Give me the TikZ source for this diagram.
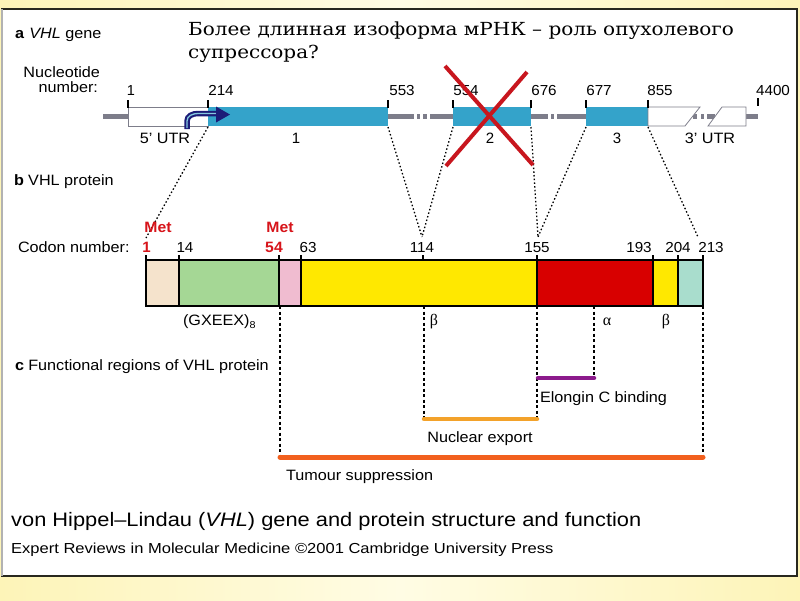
\documentclass[tikz,border=0pt]{standalone}
\usepackage{fontspec}
\setmainfont{Liberation Sans}
\newfontfamily\rufont{DejaVu Serif}
\newfontfamily\grkfont{Liberation Serif}
\newcommand{\myfs}[1]{\fontsize{#1}{#1}\selectfont}
\newcommand{\hx}[1]{\scalebox{1.08}[1]{#1}}
\newcommand{\hn}[1]{\scalebox{1.05}[1]{#1}}
\definecolor{bgY}{RGB}{253,244,184}
\definecolor{bgL}{RGB}{255,252,228}
\definecolor{frameC}{RGB}{40,40,30}
\definecolor{bbC}{RGB}{125,125,138}
\definecolor{exonC}{RGB}{52,163,202}
\definecolor{navyC}{RGB}{28,28,120}
\definecolor{xC}{RGB}{200,22,30}
\definecolor{metC}{RGB}{215,20,26}
\definecolor{beigeC}{RGB}{245,227,204}
\definecolor{greenC}{RGB}{165,215,149}
\definecolor{pinkC}{RGB}{240,188,208}
\definecolor{yelC}{RGB}{255,232,0}
\definecolor{redC}{RGB}{216,0,0}
\definecolor{tealC}{RGB}{169,221,205}
\definecolor{purC}{RGB}{140,26,140}
\definecolor{oraC}{RGB}{243,162,42}
\definecolor{tumC}{RGB}{242,96,30}
\begin{document}
\begin{tikzpicture}[x=1pt,y=-1pt,
  lbl/.style={inner sep=0pt, outer sep=0pt, font=\myfs{15}},
  num/.style={inner sep=0pt, outer sep=0pt, font=\myfs{14.5}, anchor=base},
  metlbl/.style={inner sep=0pt, font=\myfs{15}\bfseries, text=metC, anchor=base},
  bb/.style={bbC, line width=5pt},
  tickl/.style={black, line width=1.3pt},
  utr/.style={fill=white, draw=bbC, line width=0.8pt},
  exon/.style={fill=exonC},
  proj/.style={black, line width=1.3pt, dash pattern=on 1.5pt off 2.2pt},
  vdash/.style={black, line width=1.1pt, dash pattern=on 3pt off 2.5pt},
  region/.style={line width=4.5pt, line cap=round}
]
\useasboundingbox (0,0) rectangle (800,600);
% background
\shade[left color=bgY, right color=bgY, middle color=bgL] (0,0) rectangle (800,600);
\filldraw[fill=white, draw=frameC, line width=1.5pt] (2,9) rectangle (797,576);
\draw[gray!60, line width=1.5pt] (2,9) -- (2,576);

% ---- titles
\node[lbl, anchor=base west] (ta) at (15,38) {\hx{{\bfseries a}\hspace{5pt}\textit{VHL} gene}};
\node[inner sep=0pt, anchor=base west, font=\rufont\myfs{18}] (ru1) at (188,35) {\scalebox{1.11}[1]{Более длинная изоформа мРНК – роль опухолевого}};
\node[inner sep=0pt, anchor=base west, font=\rufont\myfs{18}] (ru2) at (188,58) {\scalebox{1.11}[1]{супрессора?}};
\node[lbl, anchor=base east] (nuc1) at (100,77) {\hx{Nucleotide}};
\node[lbl, anchor=base east] (nuc2) at (98,92) {\hx{number:}};

% ---- gene backbone
\draw[bb] (103,116) -- (128,116);
\draw[bb] (388,116) -- (414,116);
\draw[bb] (417,116) -- (420,116);
\draw[bb] (423,116) -- (427,116);
\draw[bb] (430,116) -- (453,116);
\draw[bb] (531,116) -- (548,116);
\draw[bb] (551,116) -- (554,116);
\draw[bb] (557,116) -- (586,116);
\draw[bb] (693,116) -- (697,116);
\draw[bb] (701,116) -- (704,116);
\draw[bb] (707,116) -- (715,116);
\draw[bb] (746,116) -- (758,116);

% boxes
\filldraw[utr] (128,107) rectangle (208,126);
\fill[exon] (208,107) rectangle (388,126);
\fill[exon] (453,107) rectangle (531,126);
\fill[exon] (586,107) rectangle (648,126);
\filldraw[utr] (648,107) -- (700,107) -- (685,126) -- (648,126) -- cycle;
\filldraw[utr] (722,107) -- (746,107) -- (746,126) -- (708,126) -- cycle;

% ticks
\foreach \x in {128,208,388,453,531,586,648} \draw[tickl] (\x,100) -- (\x,108);
\draw[tickl] (758,98) -- (758,106);

% nucleotide numbers
\node[num] (n1) at (131,95) {1};
\node[num] (n214) at (221,95) {\hn{214}};
\node[num] (n553) at (402,95) {\hn{553}};
\node[num] (n554) at (466,95) {\hn{554}};
\node[num] (n676) at (544,95) {\hn{676}};
\node[num] (n677) at (599,95) {\hn{677}};
\node[num] (n855) at (660,95) {\hn{855}};
\node[num] (n4400) at (773,95) {\hn{4400}};

% gene labels
\node[lbl, anchor=base] (g5) at (165,143) {\hx{5' UTR}};
\node[lbl, anchor=base] (g1) at (296,143) {1};
\node[lbl, anchor=base] (g2) at (490,143) {2};
\node[lbl, anchor=base] (g3) at (617,143) {3};
\node[lbl, anchor=base] (g3u) at (710,143) {\hx{3' UTR}};

% transcription start arrow
\draw[navyC, line width=5.5pt] (187,129) -- (187,121) to[out=90,in=180] (198,113.5) -- (219,113.5);
\draw[exonC!60!white, line width=1.3pt] (187,128) -- (187,121) to[out=90,in=180] (198,113.5) -- (219,113.5);
\fill[navyC] (216,106.5) -- (230,114.5) -- (216,122.5) -- cycle;

% ---- projection coordinates
\coordinate (e214) at (208,127);
\coordinate (e553) at (388,127);
\coordinate (e554) at (453,127);
\coordinate (e676) at (531,127);
\coordinate (e677) at (586,127);
\coordinate (e855) at (648,127);
\coordinate (c1) at (146,238);
\coordinate (c114) at (422,237);
\coordinate (c155) at (538,237);
\coordinate (c213) at (698,237);
\draw[proj] (e214) -- (c1);
\draw[proj] (e553) -- (c114);
\draw[proj] (e554) -- (c114);
\draw[proj] (e676) -- (c155);
\draw[proj] (e677) -- (c155);
\draw[proj] (e855) -- (c213);

% red cross
\draw[xC, line width=4pt] (445,66) -- (533,165);
\draw[xC, line width=4pt] (527,72) -- (446,166);

% ---- protein
\node[lbl, anchor=base west] (tb) at (14,185) {\hx{{\bfseries b}\hspace{4pt}VHL protein}};
\node[lbl, anchor=base west] (codon) at (18,252) {\hx{Codon number:}};
\node[metlbl] (met1) at (158,232) {\hn{Met}};
\node[metlbl] (met2) at (280,232) {\hn{Met}};
\node[metlbl] (p1) at (146.5,252) {1};
\node[num] (p14) at (185,252) {\hn{14}};
\node[metlbl] (p54) at (274,252) {\hn{54}};
\node[num] (p63) at (308,252) {\hn{63}};
\node[num] (p114) at (422,252) {\hn{114}};
\node[num] (p155) at (537,252) {\hn{155}};
\node[num] (p193) at (639,252) {\hn{193}};
\node[num] (p204) at (678,252) {\hn{204}};
\node[num] (p213) at (711,252) {\hn{213}};

\fill[beigeC] (146,260) rectangle (179,306);
\fill[greenC] (179,260) rectangle (279,306);
\fill[pinkC] (279,260) rectangle (301,306);
\fill[yelC] (301,260) rectangle (537,306);
\fill[redC] (537,260) rectangle (653,306);
\fill[yelC] (653,260) rectangle (678,306);
\fill[tealC] (678,260) rectangle (703,306);
\foreach \x in {179,279,301,537,653,678} \draw[black, line width=1.6pt] (\x,260) -- (\x,306);
\draw[black, line width=2pt] (146,260) rectangle (703,306);
\foreach \x in {146,179,279,301,423,537,653,678,703} \draw[black, line width=1.3pt] (\x,255) -- (\x,260);

\node[lbl, anchor=base west] (gx) at (183,325) {\hx{(GXEEX)\raisebox{-3pt}{\myfs{10}8}}};
\node[inner sep=0pt, anchor=base, font=\grkfont\myfs{16}] (b1) at (434,325) {β};
\node[inner sep=0pt, anchor=base, font=\grkfont\myfs{16}] (al) at (607,325) {α};
\node[inner sep=0pt, anchor=base, font=\grkfont\myfs{16}] (b2) at (666,325) {β};

% ---- functional regions
\node[lbl, anchor=base west] (tc) at (15,370) {\hx{{\bfseries c}\hspace{4pt}Functional regions of VHL protein}};
\coordinate (d54t) at (280,306);  \coordinate (d54b) at (280,457);
\coordinate (d114t) at (424,306); \coordinate (d114b) at (424,419);
\coordinate (d155t) at (537,306); \coordinate (d155b) at (537,419);
\coordinate (dat) at (594,306);   \coordinate (dab) at (594,378);
\coordinate (d213t) at (703,306); \coordinate (d213b) at (703,457);
\draw[vdash] (d54t) -- (d54b);
\draw[vdash] (d114t) -- (d114b);
\draw[vdash] (d155t) -- (d155b);
\draw[vdash] (dat) -- (dab);
\draw[vdash] (d213t) -- (d213b);
\draw[region, purC] (538,378) -- (dab);
\draw[region, oraC] (d114b) -- (d155b);
\draw[region, tumC, line width=5pt] (d54b) -- (d213b);
\node[lbl, anchor=base west] (elo) at (540,402) {\hx{Elongin C binding}};
\node[lbl, anchor=base] (nex) at (480,442) {\hx{Nuclear export}};
\node[lbl, anchor=base west] (tum) at (286,480) {\hx{Tumour suppression}};

% ---- captions
\node[inner sep=0pt, anchor=base west, font=\myfs{19.5}] (cap1) at (11,526) {\scalebox{1.12}[1]{von Hippel–Lindau (\textit{VHL}) gene and protein structure and function}};
\node[inner sep=0pt, anchor=base west, font=\myfs{14.5}] (cap2) at (11,553) {\scalebox{1.14}[1]{Expert Reviews in Molecular Medicine ©2001 Cambridge University Press}};
\end{tikzpicture}
\end{document}
